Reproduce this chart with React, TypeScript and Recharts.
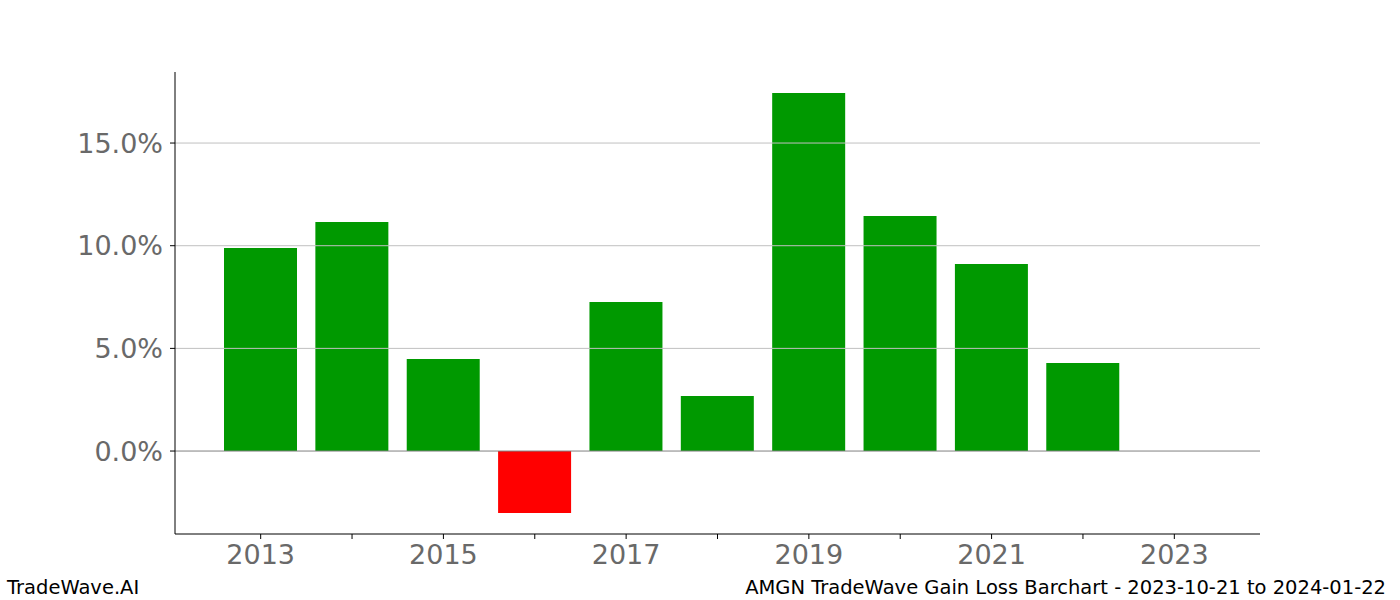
import { Bar, BarChart, Cell, ReferenceLine, XAxis, YAxis } from 'recharts'

const years = ['2013', '2014', '2015', '2016', '2017', '2018', '2019', '2020', '2021', '2022', '2023']
const gains = [9.89, 11.15, 4.48, -3.02, 7.26, 2.68, 17.44, 11.45, 9.11, 4.29, 0]
const yTicks = [0, 5, 10, 15]

const data = years.map((year, i) => ({ year, gain: gains[i] }))

const tickStyle = { fill: '#696969', fontSize: 27, fontFamily: 'DejaVu Sans' }

export default function App() {
  return (
    <div style={{ position: 'absolute', left: 0, top: 0, width: 1400, height: 600, background: '#fff', fontFamily: 'DejaVu Sans' }}>
      <BarChart width={1400} height={600} data={data} margin={{ top: 72, right: 140, left: 75, bottom: 0 }}>
        {yTicks.filter((t) => t !== 0).map((t) => (
          <ReferenceLine key={t} y={t} stroke="#c0c0c0" strokeWidth={1} />
        ))}
        <XAxis
          dataKey="year"
          height={66}
          padding={{ left: 40, right: 40 }}
          interval={0}
          tickFormatter={(v: string) => (Number(v) % 2 === 1 ? v : '')}
          tick={tickStyle}
          tickSize={5}
          tickMargin={6}
          axisLine={{ stroke: '#000', strokeOpacity: 1 }}
          tickLine={{ stroke: '#000', strokeOpacity: 1 }}
        />
        <YAxis
          width={100}
          domain={[-4.04, 18.46]}
          ticks={yTicks}
          allowDataOverflow
          tickFormatter={(v: number) => v.toFixed(1) + '%'}
          tick={tickStyle}
          tickSize={5}
          tickMargin={7}
          axisLine={{ stroke: '#000', strokeOpacity: 1 }}
          tickLine={{ stroke: '#000', strokeOpacity: 1 }}
        />
        <Bar dataKey="gain" barSize={73} isAnimationActive={false}>
          {data.map((d) => (
            <Cell key={d.year} fill={d.gain < 0 ? '#ff0000' : '#009900'} />
          ))}
        </Bar>
        <ReferenceLine y={0} stroke="#808080" strokeWidth={1} />
      </BarChart>
      <div style={{ position: 'absolute', left: 7, top: 576, fontSize: 19.5, color: '#000' }}>TradeWave.AI</div>
      <div style={{ position: 'absolute', right: 14, top: 576, fontSize: 19.5, color: '#000' }}>
        AMGN TradeWave Gain Loss Barchart - 2023-10-21 to 2024-01-22
      </div>
    </div>
  )
}
